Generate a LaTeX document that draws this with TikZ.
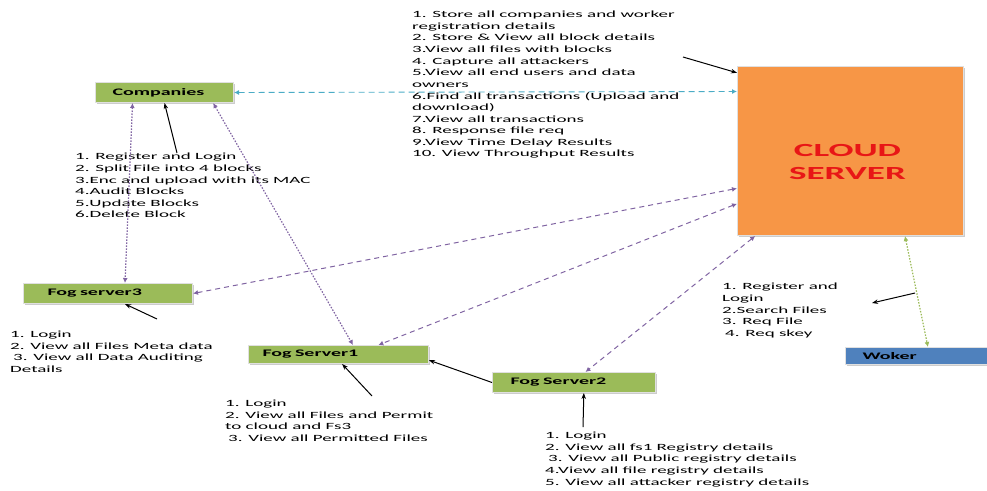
\documentclass[tikz,border=0pt]{standalone}
\usepackage{fontspec}
\setmainfont{Carlito}[FakeStretch=2.0]
\usepackage{tikz}
\usetikzlibrary{arrows.meta}
\usetikzlibrary{calc}
\usetikzlibrary{shadows}
\usepackage{xcolor}
\definecolor{cvert}{RGB}{155,187,89}
\definecolor{corange}{RGB}{247,150,70}
\definecolor{cbleu}{RGB}{79,129,189}
\definecolor{cviolet}{RGB}{128,100,162}
\definecolor{ccyan}{RGB}{75,172,198}
\definecolor{crouge}{RGB}{232,22,22}

\tikzset{
  boite/.style={anchor=north west, fill=cvert, draw=black!12, line width=1pt,
    drop shadow={shadow xshift=1.2pt, shadow yshift=-1.2pt, fill=black!40, opacity=.5},
    minimum height=20pt, inner xsep=17pt, inner ysep=0pt, align=left,
    font=\fontsize{10}{12}\selectfont\bfseries},
  liste/.style={anchor=north west, inner sep=0pt, align=left,
    font=\fontsize{9.5}{11.6}\selectfont},
  fl/.style={line width=1pt, -{Stealth[length=6pt,width=4.5pt]}},
  bidir/.style={arrows={Latex[length=5pt,width=5pt]-Latex[length=5pt,width=5pt]}},
  pointille/.style={bidir, line width=1.2pt, dash pattern=on 1.5pt off 1.5pt},
  tirets/.style={bidir, line width=1pt, dash pattern=on 5pt off 4pt}
}

\begin{document}
\begin{tikzpicture}[x=1pt, y=-1pt]
    \useasboundingbox (0,0) rectangle (987,490);
    % boites
    \node[boite, text width=104pt] (comp) at (95,82) {Companies};
    \node[boite, inner xsep=24pt, text width=121pt] (fog3) at (23,283) {Fog server3};
    \node[boite, inner xsep=14pt, text width=152pt, minimum height=18pt] (fog1) at (248,345) {Fog Server1};
    \node[boite, inner xsep=18pt, text width=127pt] (fog2) at (492,372) {Fog Server2};
    \node[boite, fill=cbleu, text width=108pt, minimum height=17pt] (woker) at (845,347) {Woker};
    \node[boite, fill=corange, minimum width=226pt, minimum height=169pt] (cloud) at (737,66) {};
    \node[align=center, text=crouge, font=\fontsize{18.5}{23}\selectfont\bfseries]
      (tcloud) at ($(cloud.center)+(-3,11)$) {CLOUD\\SERVER};
    % listes
    \node[liste] (lcloud) at (412,11) {1. Store all companies and worker\\registration details\\2. Store \& View all block details\\3.View all files with blocks\\4. Capture all attackers\\5.View all end users and data\\owners\\6.Find all transactions (Upload and\\download)\\7.View all transactions\\8. Response file req\\9.View Time Delay Results\\10. View Throughput Results};
    \node[liste] (lcomp) at (75,153) {1. Register and Login\\2. Split File into 4 blocks\\3.Enc and upload with its MAC\\4.Audit Blocks\\5.Update Blocks\\6.Delete Block};
    \node[liste] (lfog3) at (10,331) {1. Login\\2. View all Files Meta data\\\hspace*{3pt}3. View all Data Auditing\\Details};
    \node[liste] (lfog1) at (225,400) {1. Login\\2. View all Files and Permit\\to cloud and Fs3\\\hspace*{3pt}3. View all Permitted Files};
    \node[liste] (lfog2) at (545,432) {1. Login\\2. View all fs1 Registry details\\\hspace*{3pt}3. View all Public registry details\\4.View all file registry details\\5. View all attacker registry details};
    \node[liste] (lwoker) at (722,283) {1. Register and\\Login\\2.Search Files\\3. Req File\\\hspace*{3pt}4. Req skey};
    % bouts libres des fleches noires
    \coordinate (t1) at (683,57);
    \coordinate (t2) at (177,153);
    \coordinate (t3) at (157,319);
    \coordinate (t4) at (372,396);
    \coordinate (t5) at (583,427);
    \coordinate (t6) at (915,293);
    \coordinate (h6) at (872,303);
    % liaisons en couleur
    \draw[bidir, ccyan, line width=.9pt, dash pattern=on 6pt off 4pt] (comp.east) -- ($(cloud.north west)!.15!(cloud.south west)$);
    \draw[pointille, cviolet] ($(comp.south west)!.27!(comp.south east)$) -- ($(fog3.north west)!.6!(fog3.north east)$);
    \draw[pointille, cviolet] ($(comp.south west)!.85!(comp.south east)$) -- ($(fog1.north west)!.58!(fog1.north east)$);
    \draw[tirets, cviolet] ($(cloud.north west)!.72!(cloud.south west)$) -- (fog3.east);
    \draw[tirets, cviolet] ($(cloud.north west)!.81!(cloud.south west)$) -- ($(fog1.north west)!.72!(fog1.north east)$);
    \draw[tirets, cviolet] ($(cloud.south west)!.08!(cloud.south east)$) -- ($(fog2.north west)!.57!(fog2.north east)$);
    \draw[pointille, cvert] ($(cloud.south west)!.74!(cloud.south east)$) -- ($(woker.north west)!.58!(woker.north east)$);
    % fleches noires
    \draw[fl] (t1) -- ($(cloud.north west)!.04!(cloud.south west)$);
    \draw[fl] (t2) -- (comp.south);
    \draw[fl] (t3) -- ($(fog3.south west)!.6!(fog3.south east)$);
    \draw[fl] (t4) -- ($(fog1.south west)!.52!(fog1.south east)$);
    \draw[fl] (t5) -- ($(fog2.south west)!.56!(fog2.south east)$);
    \draw[fl] (t6) -- (h6);
    \draw[fl, {Stealth[length=6pt,width=4.5pt]}-] ($(fog1.north east)!.8!(fog1.south east)$) -- (fog2.west);
\end{tikzpicture}
\end{document}
